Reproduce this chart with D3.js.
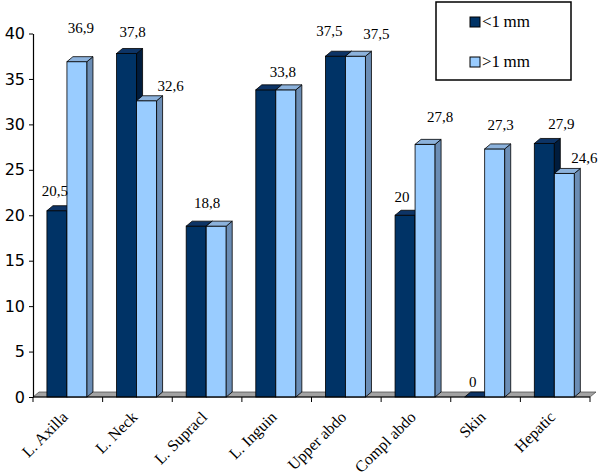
<!DOCTYPE html>
<html><head><meta charset="utf-8">
<script src="https://cdn.jsdelivr.net/npm/d3@7"></script>
<style>html,body{margin:0;padding:0;background:#fff;}</style>
</head><body>
<script>
const categories = ["L. Axilla","L. Neck","L. Supracl","L. Inguin","Upper abdo","Compl abdo","Skin","Hepatic"];
const seriesNames = ["<1 mm", ">1 mm"];
const lessThan1 = [20.5, 37.8, 18.8, 33.8, 37.5, 20, 0, 27.9];
const moreThan1 = [36.9, 32.6, 18.8, 33.8, 37.5, 27.8, 27.3, 24.6];
const yTicks = [0,5,10,15,20,25,30,35,40];

// label nudges relative to the bar's back-top centre (layout only); null hides duplicate
const labelNudge = [
  [[-5,-15],[1,-29]],
  [[3,-16],[21,-10]],
  [[8,-18],null],
  [[14,-13],null],
  [[-9,-20],[18,-17]],
  [[-6,-13],[12,-22]],
  [[-5,-10],[3,-19]],
  [[14,-14],[17,-10]]
];

const W = 600, H = 475;
const svg = d3.select("body").append("svg").attr("width", W).attr("height", H);

const x0 = d3.scaleBand().domain(categories).range([33, 590]).padding(0);
const x1 = d3.scaleBand().domain(seriesNames)
  .range([x0.bandwidth()*0.2, x0.bandwidth()*0.775]).padding(0);
const y = d3.scaleLinear().domain([0, 40]).range([397, 33.5]);

const DX = 6, DY = -5;
const colors = {
  "<1 mm": {front:"#003366", top:"#0d3466", side:"#001c3d"},
  ">1 mm": {front:"#99ccff", top:"#8cb2dc", side:"#6b8db5"}
};
const serif = "'Liberation Serif','Times New Roman',serif";

// floor
const y0 = y(0);
svg.append("path")
  .attr("d", `M${x0.range()[0]},${y0} L${x0.range()[1]},${y0} L${x0.range()[1]+DX},${y0+DY} L${x0.range()[0]+DX},${y0+DY} Z`)
  .attr("fill", "#a3a3a3").attr("stroke", "#444").attr("stroke-width", 0.7);

// bars
const rows = categories.map((c,i) => ({c, i, vals:[lessThan1[i], moreThan1[i]]}));
const barG = svg.append("g");
rows.forEach(r => {
  seriesNames.forEach((s, k) => {
    const v = r.vals[k];
    const bx = x0(r.c) + x1(s), bw = x1.bandwidth();
    const yt = y(v);
    const col = colors[s];
    const g = barG.append("g");
    if (v > 0) {
      g.append("rect").attr("x", bx).attr("y", yt).attr("width", bw).attr("height", y0 - yt)
        .attr("fill", col.front).attr("stroke", "#000").attr("stroke-width", 0.8);
      g.append("path")
        .attr("d", `M${bx+bw},${yt} L${bx+bw+DX},${yt+DY} L${bx+bw+DX},${y0+DY} L${bx+bw},${y0} Z`)
        .attr("fill", col.side).attr("stroke", "#000").attr("stroke-width", 0.8);
    }
    g.append("path")
      .attr("d", `M${bx},${yt} L${bx+bw},${yt} L${bx+bw+DX},${yt+DY} L${bx+DX},${yt+DY} Z`)
      .attr("fill", col.top).attr("stroke", "#000").attr("stroke-width", 0.8);
  });
});

// data labels
rows.forEach(r => {
  seriesNames.forEach((s, k) => {
    const nud = labelNudge[r.i][k];
    if (!nud) return;
    const v = r.vals[k];
    const cx = x0(r.c) + x1(s) + x1.bandwidth()/2 + DX/2;
    const cy = y(v) + DY;
    svg.append("text")
      .attr("x", cx + nud[0]).attr("y", cy + nud[1] + 5)
      .attr("text-anchor", "middle")
      .attr("font-family", serif).attr("font-size", 15).attr("fill", "#000")
      .text(d3.format(".1~f")(v).replace(".", ","));
  });
});

// y axis
const yAxis = svg.append("g").attr("transform", "translate(33,0)")
  .call(d3.axisLeft(y).tickValues(yTicks).tickSize(4).tickPadding(4).tickSizeOuter(0).tickFormat(d3.format("d")));
yAxis.select(".domain").attr("stroke", "#000").attr("stroke-width", 1.2);
yAxis.selectAll(".tick line").attr("stroke", "#000");
yAxis.selectAll("text").attr("font-family", "'DejaVu Sans',sans-serif").attr("font-size", 16).attr("fill", "#000");

// x axis
const xa = svg.append("g");
xa.append("line").attr("x1", x0.range()[0]).attr("x2", x0.range()[1]).attr("y1", y0).attr("y2", y0)
  .attr("stroke", "#000").attr("stroke-width", 1.2);
const bounds = categories.map(c => x0(c)).concat([x0.range()[1]]);
xa.selectAll("line.tk").data(bounds).enter().append("line").attr("class","tk")
  .attr("x1", d => d).attr("x2", d => d).attr("y1", y0).attr("y2", y0 + 5)
  .attr("stroke", "#000");
xa.selectAll("text").data(categories).enter().append("text")
  .attr("transform", d => `translate(${x0(d) + x0.bandwidth()/2 + 1},${y0 + 21}) rotate(-45)`)
  .attr("text-anchor", "end")
  .attr("font-family", serif).attr("font-size", 16).attr("fill", "#000")
  .text(d => d);

// legend
const lg = svg.append("g");
lg.append("rect").attr("x", 436).attr("y", 2).attr("width", 135).attr("height", 78)
  .attr("fill", "#fff").attr("stroke", "#000").attr("stroke-width", 1.5);
seriesNames.forEach((s, k) => {
  const yy = 17 + k * 40;
  lg.append("rect").attr("x", 470).attr("y", yy).attr("width", 10).attr("height", 10)
    .attr("fill", colors[s].front).attr("stroke", "#000").attr("stroke-width", 1);
  lg.append("text").attr("x", 482).attr("y", yy + 10)
    .attr("font-family", serif).attr("font-size", 17).attr("fill", "#000").text(s.replace(" ", "\u2009"));
});
</script>
</body></html>
